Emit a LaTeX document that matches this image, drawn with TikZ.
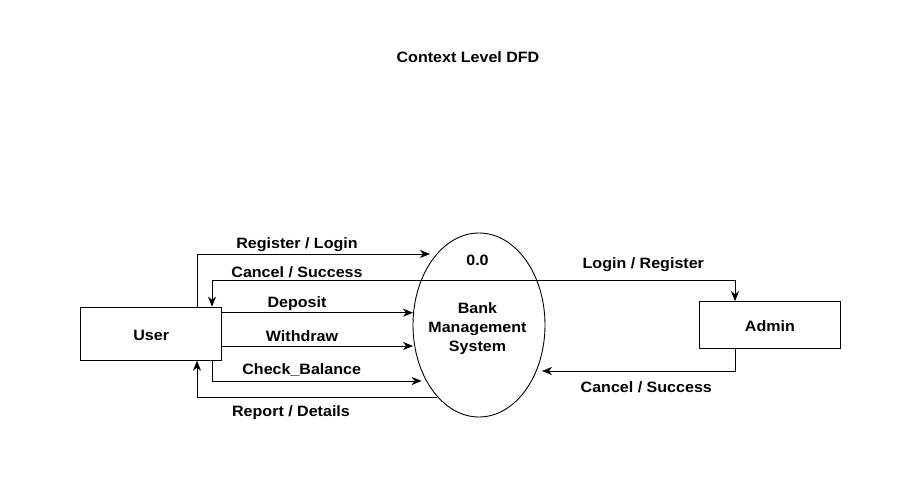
\documentclass[tikz,border=0pt]{standalone}
\usepackage{fontspec}
\setmainfont[FakeStretch=1.07]{Liberation Sans}
\usetikzlibrary{arrows.meta,shapes.geometric}
\begin{document}
\begin{tikzpicture}[x=1pt,y=-1pt,
  lbl/.style={font=\fontsize{15}{18}\selectfont\bfseries, anchor=base, inner sep=0},
  ent/.style={draw, line width=1pt, minimum width=141pt, inner sep=0},
  arr/.style={line width=0.9pt, -{Stealth[length=10pt,width=8pt,inset=3pt]}},
  ln/.style={line width=0.9pt}]
\useasboundingbox (0,0) rectangle (924,503);
\fill[white] (0,0) rectangle (924,503);
\node[lbl] (title) at (468,63) {Context Level DFD};
% entities
\node[ent, minimum height=53pt] (user) at (151.2,333.7) {};
\node[lbl] (usertxt) at (151.2,340.5) {User};
\node[ent, minimum height=46.6pt, minimum width=141.7pt] (admin) at (769.9,325) {};
\node[lbl] (admintxt) at (769.9,331) {Admin};
% process
\node[draw, ellipse, line width=0.9pt, minimum width=132pt, minimum height=184pt, inner sep=0] (bms) at (479,325) {};
\node[lbl] (num) at (477.5,265) {0.0};
\node[lbl] (bank) at (477.5,313) {Bank};
\node[lbl] (mgmt) at (477.5,332) {Management};
\node[lbl] (sys) at (477.5,351) {System};
% points on the process circle
\coordinate (dl) at (421.4,280);
\coordinate (dr) at (536.6,280);
\coordinate (rlin) at (430,254);
\coordinate (depin) at (413,312.7);
\coordinate (wdin) at (413,346);
\coordinate (cbin) at (421.7,381);
\coordinate (rdout) at (437,397);
\coordinate (acin) at (542,371);
\draw[ln] (dl) -- (dr);
% User flows
\draw[arr] ([xshift=45.8pt]user.north) |- (rlin);
\node[lbl] (l1) at (297,248) {Register / Login};
\draw[arr] (dl) -| ([xshift=60.8pt]user.north);
\node[lbl] (l2) at (297,277) {Cancel / Success};
\draw[arr] (user.east |- depin) -- (depin);
\node[lbl] (l3) at (297,307) {Deposit};
\draw[arr] (user.east |- wdin) -- (wdin);
\node[lbl] (l4) at (302,341) {Withdraw};
\draw[arr] ([xshift=60.8pt]user.south) |- (cbin);
\node[lbl] (l5) at (301.7,374) {Check\_Balance};
\draw[arr] (rdout) -| ([xshift=45.8pt]user.south);
\node[lbl] (l6) at (291,416) {Report / Details};
% Admin flows
\draw[arr] (dr) -| ([xshift=-34.9pt]admin.north);
\node[lbl] (l7) at (643.3,268) {Login / Register};
\draw[arr] ([xshift=-34.9pt]admin.south) |- (acin);
\node[lbl] (l8) at (646.3,392) {Cancel / Success};
\end{tikzpicture}
\end{document}
